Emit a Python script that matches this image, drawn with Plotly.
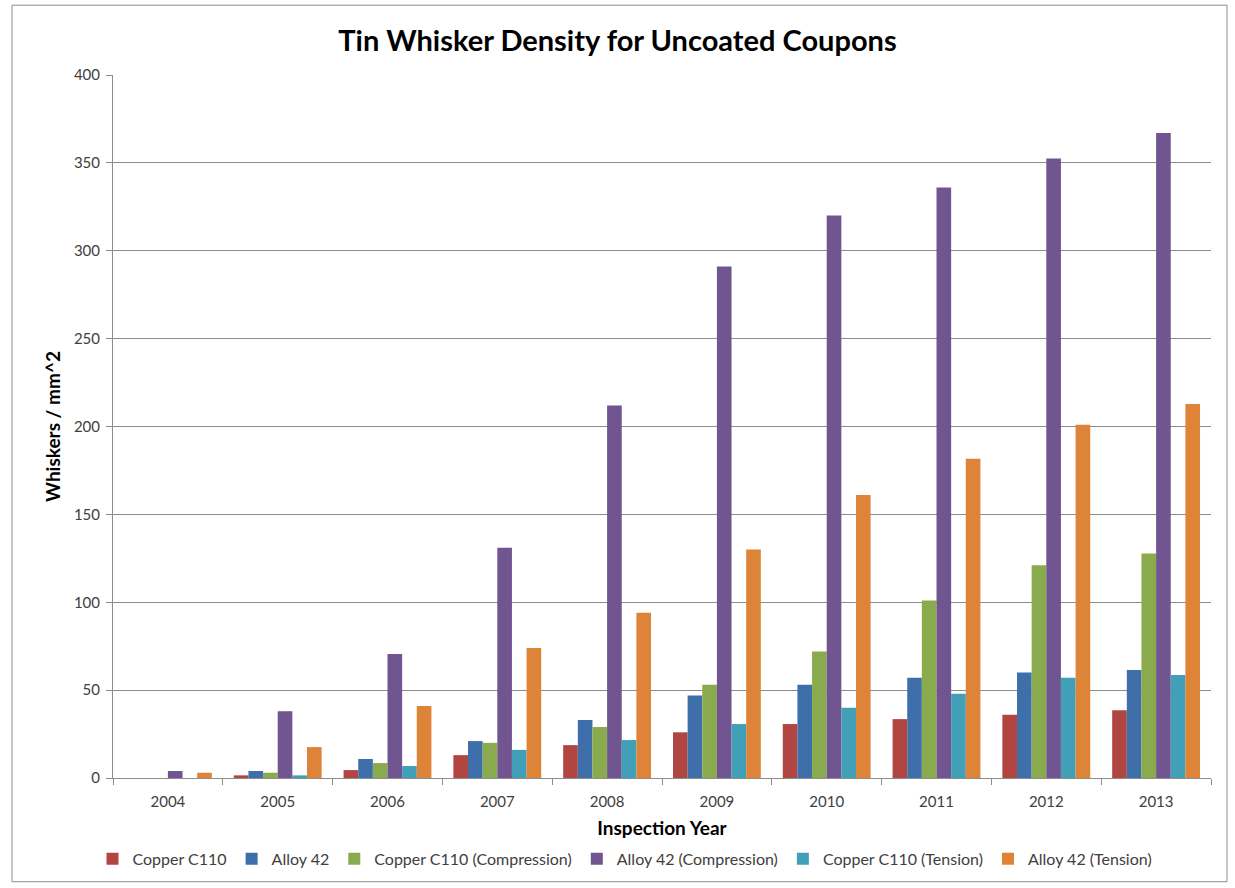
import plotly.graph_objects as go

years = ["2004", "2005", "2006", "2007", "2008", "2009", "2010", "2011", "2012", "2013"]

copper_c110 = [0, 1.5, 4.5, 13, 18.7, 26, 30.7, 33.5, 36, 38.6]
alloy_42 = [0, 4, 10.8, 21, 33, 47, 53, 57, 60, 61.5]
copper_c110_comp = [0, 3, 8.5, 20, 29, 53, 72, 101, 121, 127.7]
alloy_42_comp = [4, 38, 70.5, 131, 212, 291, 320, 336, 352.5, 367]
copper_c110_tens = [0, 1.5, 6.8, 16, 21.6, 30.7, 40, 48, 57, 58.6]
alloy_42_tens = [3, 17.6, 41, 74, 94, 130, 161, 181.6, 201, 212.8]

series_names = ["Copper C110", "Alloy 42", "Copper C110 (Compression)",
                "Alloy 42 (Compression)", "Copper C110 (Tension)", "Alloy 42 (Tension)"]
series_values = [copper_c110, alloy_42, copper_c110_comp,
                 alloy_42_comp, copper_c110_tens, alloy_42_tens]
colors = ["#B14542", "#3F6FAA", "#8AAA4E", "#705590", "#419FB8", "#DD8439"]

y_ticks = [0, 50, 100, 150, 200, 250, 300, 350, 400]

font_family = "Lato, 'Open Sans', sans-serif"

fig = go.Figure()
for name, vals, col in zip(series_names, series_values, colors):
    fig.add_trace(go.Bar(x=years, y=vals, name=name, marker=dict(color=col, line=dict(width=0))))

L, R, T, B = 113, 1211, 75, 780
W, H = 1235, 888
pw, ph = R - L, B - T

fig.update_layout(
    width=W, height=H,
    margin=dict(l=L, r=W - R, t=T, b=H - B),
    paper_bgcolor="white", plot_bgcolor="white",
    barmode="group", bargap=0.2, bargroupgap=0,
    font=dict(family=font_family, size=15, color="#404040"),
    title=dict(text="<b>Tin Whisker Density for Uncoated Coupons</b>",
               x=0.5, xanchor="center", y=1 - 41 / H, yanchor="middle",
               font=dict(size=29, color="black", family=font_family)),
    xaxis=dict(
        type="category", showgrid=False, showline=True, linecolor="#8c8c8c", linewidth=1,
        ticks="outside", tickson="boundaries", ticklen=6, tickcolor="#8c8c8c",
        tickfont=dict(size=15, color="#404040"), ticklabelstandoff=10,
        title=dict(text="<b>Inspection Year</b>", font=dict(size=19, color="black"), standoff=12),
    ),
    yaxis=dict(
        range=[0, 400], tickvals=y_ticks, showgrid=True, gridcolor="#8c8c8c", gridwidth=1,
        showline=True, linecolor="#8c8c8c", linewidth=1, ticks="outside", ticklen=6,
        tickcolor="#8c8c8c", tickfont=dict(size=15, color="#404040"), zeroline=False,
        ticklabelstandoff=3,
        title=dict(text="<b>Whiskers / mm^2</b>", font=dict(size=19, color="black"), standoff=8),
    ),
    legend=dict(orientation="h", x=(625 - L) / pw, xanchor="center", y=-(861 - B) / ph,
                yanchor="middle", font=dict(size=16, color="#404040"), itemwidth=30,
                tracegroupgap=0, traceorder="normal"),
    shapes=[dict(type="rect", xref="paper", yref="paper",
                 x0=(12 - L) / pw, x1=(1227 - L) / pw,
                 y0=(B - 884) / ph, y1=(B - 5) / ph,
                 line=dict(color="#8c8c8c", width=1), fillcolor="rgba(0,0,0,0)", layer="below")],
)

fig.write_html("out.html", config={"displayModeBar": False},
               post_script="document.body.style.margin='0';document.body.style.overflow='hidden';")
